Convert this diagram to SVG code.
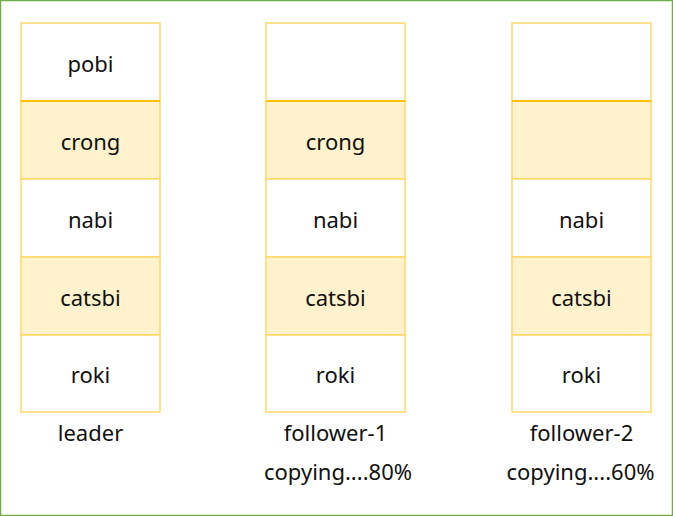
<svg xmlns="http://www.w3.org/2000/svg" width="673" height="516" viewBox="0 0 673 516">
<style>
.w{fill:#ffffff;stroke:#ffd966;stroke-width:1.5}
.y{fill:#fff2cc;stroke:#ffd966;stroke-width:1.5}
.sep{stroke:#ffc000;stroke-width:2}
text{font-family:"Noto Sans","Open Sans",sans-serif;font-size:22px;fill:#111111;text-anchor:middle}
</style>
<rect x="0.5" y="0.5" width="672" height="515" fill="#ffffff" stroke="#70ad47" stroke-width="1.5"/>
<g id="leader">
<rect class="w" x="21" y="23" width="139" height="78"/>
<rect class="y" x="21" y="101" width="139" height="78"/>
<rect class="w" x="21" y="179" width="139" height="78"/>
<rect class="y" x="21" y="257" width="139" height="78"/>
<rect class="w" x="21" y="335" width="139" height="77"/>
<line class="sep" x1="21" y1="101" x2="160" y2="101"/>
<text x="90.5" y="72">pobi</text>
<text x="90.5" y="150">crong</text>
<text x="90.5" y="228">nabi</text>
<text x="90.5" y="306">catsbi</text>
<text x="90.5" y="383">roki</text>
<text x="90.5" y="441">leader</text>
</g>
<g id="follower-1">
<rect class="w" x="266" y="23" width="139" height="78"/>
<rect class="y" x="266" y="101" width="139" height="78"/>
<rect class="w" x="266" y="179" width="139" height="78"/>
<rect class="y" x="266" y="257" width="139" height="78"/>
<rect class="w" x="266" y="335" width="139" height="77"/>
<line class="sep" x1="266" y1="101" x2="405" y2="101"/>
<text x="335.5" y="150">crong</text>
<text x="335.5" y="228">nabi</text>
<text x="335.5" y="306">catsbi</text>
<text x="335.5" y="383">roki</text>
<text x="335.5" y="441">follower-1</text>
<text x="338" y="480">copying....80%</text>
</g>
<g id="follower-2">
<rect class="w" x="512" y="23" width="139" height="78"/>
<rect class="y" x="512" y="101" width="139" height="78"/>
<rect class="w" x="512" y="179" width="139" height="78"/>
<rect class="y" x="512" y="257" width="139" height="78"/>
<rect class="w" x="512" y="335" width="139" height="77"/>
<line class="sep" x1="512" y1="101" x2="651" y2="101"/>
<text x="581.5" y="228">nabi</text>
<text x="581.5" y="306">catsbi</text>
<text x="581.5" y="383">roki</text>
<text x="581.5" y="441">follower-2</text>
<text x="580.5" y="480">copying....60%</text>
</g>
</svg>
